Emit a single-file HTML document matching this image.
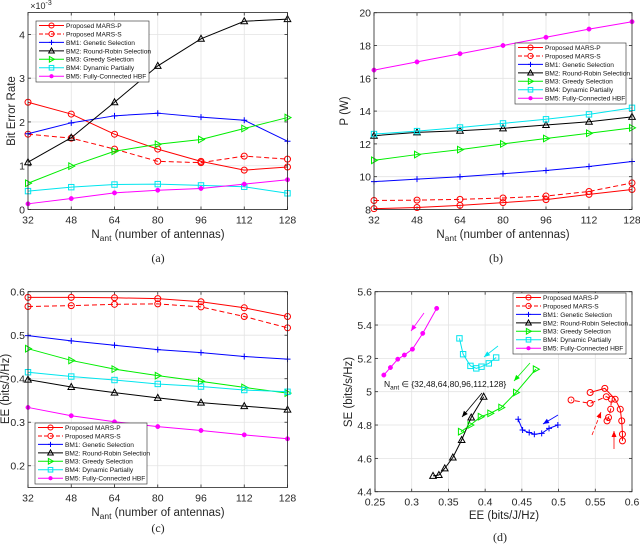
<!DOCTYPE html>
<html><head><meta charset="utf-8"><style>
html,body{margin:0;padding:0;background:#fff;}
svg{display:block;font-family:"Liberation Sans",sans-serif;}
</style></head><body>
<svg id="fig" width="640" height="545" viewBox="0 0 640 545" xmlns="http://www.w3.org/2000/svg"></svg>
<script>
const nant = [32,48,64,80,96,112,128];
const seriesNames = ["Proposed MARS-P","Proposed MARS-S","BM1: Genetic Selection","BM2: Round-Robin Selection","BM3: Greedy Selection","BM4: Dynamic Partially","BM5: Fully-Connected HBF"];
// (a) BER x1e-3
const berP = [2.45,2.18,1.72,1.38,1.1,0.9,0.97];
const berS = [1.72,1.63,1.38,1.1,1.07,1.22,1.15];
const ber1 = [1.73,1.98,2.14,2.2,2.11,2.04,1.56];
const ber2 = [1.08,1.64,2.45,3.28,3.9,4.3,4.35];
const ber3 = [0.6,0.99,1.33,1.49,1.6,1.85,2.1];
const ber4 = [0.42,0.51,0.57,0.58,0.55,0.52,0.37];
const ber5 = [0.13,0.25,0.38,0.44,0.48,0.58,0.68];
// (b) Power W
const powP = [8.05,8.12,8.25,8.42,8.6,8.92,9.22];
const powS = [8.55,8.57,8.62,8.7,8.82,9.1,9.62];
const pow1 = [9.7,9.85,10.0,10.18,10.38,10.62,10.93];
const pow2 = [12.5,12.7,12.8,12.95,13.15,13.35,13.65];
const pow3 = [11.0,11.35,11.65,12.0,12.33,12.65,12.98];
const pow4 = [12.6,12.78,13.0,13.25,13.5,13.8,14.2];
const pow5 = [16.5,17.0,17.5,18.0,18.5,19.0,19.45];
// (c) EE
const eeP = [0.587,0.587,0.586,0.584,0.577,0.563,0.543];
const eeS = [0.566,0.568,0.571,0.572,0.565,0.543,0.517];
const ee1 = [0.499,0.487,0.477,0.467,0.46,0.451,0.445];
const ee2 = [0.398,0.381,0.368,0.356,0.345,0.337,0.329];
const ee3 = [0.469,0.442,0.422,0.407,0.394,0.38,0.367];
const ee4 = [0.415,0.405,0.397,0.388,0.382,0.374,0.37];
const ee5 = [0.334,0.315,0.301,0.29,0.281,0.271,0.262];
// (d) EE vs SE
const dEeP = [0.587,0.587,0.586,0.584,0.577,0.563,0.543];
const dSeP = [4.705,4.745,4.825,4.895,4.955,5.02,4.995];
const dEeS = [0.566,0.568,0.571,0.572,0.565,0.543,0.517];
const dSeS = [4.825,4.845,4.895,4.955,4.97,4.93,4.95];
const dEe1 = [0.499,0.487,0.477,0.467,0.46,0.451,0.445];
const dSe1 = [4.8,4.78,4.75,4.745,4.755,4.77,4.835];
const dEe2 = [0.398,0.381,0.368,0.356,0.345,0.337,0.329];
const dSe2 = [4.97,4.845,4.71,4.605,4.54,4.5,4.495];
const dEe3 = [0.469,0.442,0.422,0.407,0.394,0.38,0.367];
const dSe3 = [5.135,4.995,4.905,4.87,4.85,4.8,4.76];
const dEe4 = [0.415,0.405,0.395,0.388,0.38,0.37,0.365];
const dSe4 = [5.205,5.17,5.15,5.14,5.155,5.225,5.32];
const dEe5 = [0.334,0.315,0.301,0.29,0.281,0.271,0.262];
const dSe5 = [5.5,5.35,5.255,5.22,5.195,5.145,5.1];
const xTicksN = [32,48,64,80,96,112,128];
const yTicksA = [0,1,2,3,4];
const yTicksB = [8,10,12,14,16,18,20];
const yTicksC = [0.2,0.3,0.4,0.5,0.6];
const xTicksD = [0.25,0.3,0.35,0.4,0.45,0.5,0.55,0.6];
const yTicksD = [4.4,4.6,4.8,5,5.2,5.4,5.6];

const styles = [
 {c:"#ff0000",m:"o",dash:""},{c:"#ff0000",m:"o",dash:"5,3"},{c:"#0000ff",m:"+",dash:""},
 {c:"#000000",m:"^",dash:""},{c:"#00ee00",m:">",dash:""},{c:"#00e5ee",m:"s",dash:""},{c:"#ff00ff",m:"*",dash:""}];
const svg = document.getElementById('fig');
const NS = "http://www.w3.org/2000/svg";
function mk(tag, attrs, parent){const e=document.createElementNS(NS,tag);for(const k in attrs)e.setAttribute(k,attrs[k]);(parent||svg).appendChild(e);return e;}
function marker(g,m,x,y,c,s){
 s=s||1;
 let e;
 if(m==="o"){e=mk('circle',{cx:x,cy:y,r:3*s,fill:'none',stroke:c,'stroke-width':1},g);}
 else if(m==="+"){e=mk('path',{d:`M${x-3*s} ${y}H${x+3*s}M${x} ${y-3*s}V${y+3*s}`,stroke:c,'stroke-width':1},g);}
 else if(m==="^"){e=mk('path',{d:`M${x} ${y-3.5*s}L${x+3.3*s} ${y+2.5*s}L${x-3.3*s} ${y+2.5*s}Z`,fill:'none',stroke:c,'stroke-width':1},g);}
 else if(m===">"){e=mk('path',{d:`M${x+3.5*s} ${y}L${x-2.5*s} ${y-3.3*s}L${x-2.5*s} ${y+3.3*s}Z`,fill:'none',stroke:c,'stroke-width':1},g);}
 else if(m==="s"){e=mk('rect',{x:x-2.7*s,y:y-2.7*s,width:5.4*s,height:5.4*s,fill:'none',stroke:c,'stroke-width':1},g);}
 else {e=mk('circle',{cx:x,cy:y,r:2.2*s,fill:c,stroke:c,'stroke-width':0.5},g);}
 
 
}
function panel(p){
 const g=mk('g',{});
 
 
 const sx=v=>p.x0+(v-p.xmin)/(p.xmax-p.xmin)*(p.x1-p.x0);
 const sy=v=>p.y1-(v-p.ymin)/(p.ymax-p.ymin)*(p.y1-p.y0);
 mk('rect',{x:p.x0,y:p.y0,width:p.x1-p.x0,height:p.y1-p.y0,fill:'#fff'},g);
 p.xt.forEach(t=>{const X=sx(t);
  const l=mk('line',{x1:X,x2:X,y1:p.y0,y2:p.y1,stroke:'#e3e3e3','stroke-width':0.8},g);
  
  mk('line',{x1:X,x2:X,y1:p.y1,y2:p.y1-3,stroke:'#262626','stroke-width':0.8},g);
  mk('line',{x1:X,x2:X,y1:p.y0,y2:p.y0+3,stroke:'#262626','stroke-width':0.8},g);
  const tx=mk('text',{x:X,y:p.y1+14,'font-size':10.5,'text-anchor':'middle',fill:'#262626'},g);
  tx.textContent=p.xf?p.xf(t):t;
  });
 p.yt.forEach(t=>{const Y=sy(t);
  const l=mk('line',{x1:p.x0,x2:p.x1,y1:Y,y2:Y,stroke:'#e3e3e3','stroke-width':0.8},g);
  
  mk('line',{x1:p.x0,x2:p.x0+3,y1:Y,y2:Y,stroke:'#262626','stroke-width':0.8},g);
  mk('line',{x1:p.x1,x2:p.x1-3,y1:Y,y2:Y,stroke:'#262626','stroke-width':0.8},g);
  const tx=mk('text',{x:p.x0-3,y:Y+4,'font-size':10.5,'text-anchor':'end',fill:'#262626'},g);
  tx.textContent=p.yf?p.yf(t):t;
  });
 p.series.forEach((s,i)=>{const st=styles[i];
  const xs=s[0], ys=s[1];
  const pts=xs.map((v,j)=>sx(v)+','+sy(ys[j])).join(' ');
  const pl=mk('polyline',{points:pts,fill:'none',stroke:st.c,'stroke-width':1,'stroke-dasharray':st.dash},g);
  
  xs.forEach((v,j)=>marker(g,st.m,sx(v),sy(ys[j]),st.c));});
 const bx=mk('rect',{x:p.x0,y:p.y0,width:p.x1-p.x0,height:p.y1-p.y0,fill:'none',stroke:'#262626','stroke-width':0.8},g);
 
 const L=p.leg;const lg=mk('g',{},g);
 
 mk('rect',{x:L.x,y:L.y,width:L.w,height:61,fill:'#fff',stroke:'#262626','stroke-width':0.6},lg);
 seriesNames.forEach((n,i)=>{const st=styles[i];const Y=L.y+4.5+i*8.45;
  const le=mk('g',{},lg);
  
  mk('line',{x1:L.x+3,x2:L.x+28,y1:Y,y2:Y,stroke:st.c,'stroke-width':1,'stroke-dasharray':st.dash?'4,2':''},le);
  marker(le,st.m,L.x+15.5,Y,st.c,0.85);
  const t=mk('text',{x:L.x+30,y:Y+2.4,'font-size':6.6,fill:'#111'},le);t.textContent=n;});
 return {sx,sy};
}
function label(x,y,txt,rot,name,size){const t=mk('text',{x:x,y:y,'font-size':size||11.5,'text-anchor':'middle',fill:'#262626',transform:rot?`rotate(-90 ${x} ${y})`:''});t.innerHTML=txt;return t;}
const nlab='N<tspan font-size="8.5" dy="3">ant</tspan><tspan dy="-3"> (number of antennas)</tspan>';

panel({name:'panel-a',x0:28,x1:287.5,y0:12.5,y1:209.5,xmin:32,xmax:128,ymin:0,ymax:4.5,xt:xTicksN,yt:yTicksA,
 series:[[nant,berP],[nant,berS],[nant,ber1],[nant,ber2],[nant,ber3],[nant,ber4],[nant,ber5]],leg:{x:36,y:21,w:113}});
label(15,111,'Bit Error Rate',true,'y-axis-title-a');
label(158,238,nlab,false,'x-axis-title-a');
label(41,9,'×10<tspan font-size="7" dy="-4">-3</tspan>',false,'exponent-label',9);
label(158,262,'(a)',false,'caption-a',12).setAttribute('font-family','Liberation Serif');

panel({name:'panel-b',x0:374,x1:632,y0:12.7,y1:209.5,xmin:32,xmax:128,ymin:8,ymax:20,xt:xTicksN,yt:yTicksB,
 series:[[nant,powP],[nant,powS],[nant,pow1],[nant,pow2],[nant,pow3],[nant,pow4],[nant,pow5]],leg:{x:515,y:43,w:111}});
label(348,111,'P (W)',true,'y-axis-title-b');
label(503,238,nlab,false,'x-axis-title-b');
label(496,262,'(b)',false,'caption-b',12).setAttribute('font-family','Liberation Serif');

panel({name:'panel-c',x0:28,x1:287.5,y0:291.7,y1:487.5,xmin:32,xmax:128,ymin:0.15,ymax:0.6,xt:xTicksN,yt:yTicksC,
 series:[[nant,eeP],[nant,eeS],[nant,ee1],[nant,ee2],[nant,ee3],[nant,ee4],[nant,ee5]],leg:{x:35,y:423,w:112}});
label(9,389,'EE (bits/J/Hz)',true,'y-axis-title-c');
label(158,516,nlab,false,'x-axis-title-c');
label(158,532,'(c)',false,'caption-c',12).setAttribute('font-family','Liberation Serif');

panel({name:'panel-d',x0:375,x1:632,y0:291.7,y1:491.7,xmin:0.25,xmax:0.6,ymin:4.4,ymax:5.6,xt:xTicksD,yt:yTicksD,
 xf:t=>String(t),yf:t=>String(t),
 series:[[dEeP,dSeP],[dEeS,dSeS],[dEe1,dSe1],[dEe2,dSe2],[dEe3,dSe3],[dEe4,dSe4],[dEe5,dSe5]],leg:{x:513,y:293,w:113}});
label(352,392,'SE (bits/s/Hz)',true,'y-axis-title-d');
label(504,519,'EE (bits/J/Hz)',false,'x-axis-title-d');
label(500,541,'(d)',false,'caption-d',12).setAttribute('font-family','Liberation Serif');
const arrows=[[424,313,411,331,'#ff00ff',''],[498,346,484,357,'#00e5ee',''],[530,363,514,381,'#00ee00',''],[482,393,462,417,'#000',''],
 [558,415,543,424,'#0000ff',''],[592,435,601,412,'#ff0000','4,2'],[614,449,614,431,'#ff0000','']];
arrows.forEach(a=>{const g=mk('g',{});
 
 
 mk('line',{x1:a[0],y1:a[1],x2:a[2],y2:a[3],stroke:a[4],'stroke-width':0.8,'stroke-dasharray':a[5]},g);
 const ang=Math.atan2(a[3]-a[1],a[2]-a[0]);const L=6,W=2.5;
 const bxp=a[2]-L*Math.cos(ang),byp=a[3]-L*Math.sin(ang);
 mk('path',{d:`M${a[2]} ${a[3]}L${bxp-W*Math.sin(ang)} ${byp+W*Math.cos(ang)}L${bxp+W*Math.sin(ang)} ${byp-W*Math.cos(ang)}Z`,fill:a[4]},g);});
const nt=mk('text',{x:384,y:387,'font-size':8.5,fill:'#111'});
nt.innerHTML='N<tspan font-size="6.5" dy="2.5">ant</tspan><tspan dy="-2.5"> ∈ {32,48,64,80,96,112,128}</tspan>';


</script>
</body></html>
